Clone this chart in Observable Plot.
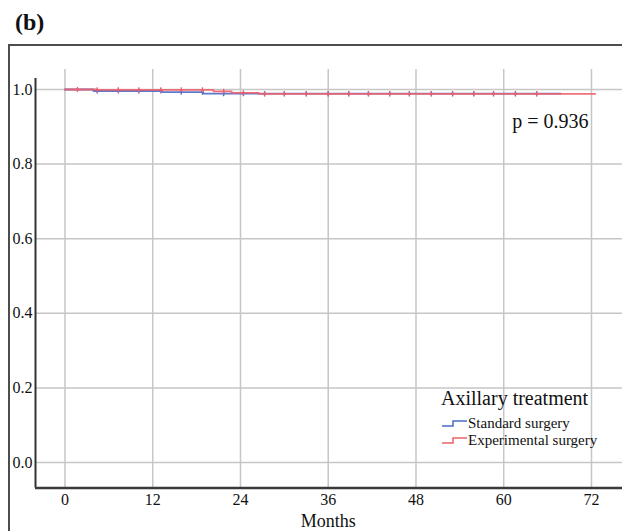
<!DOCTYPE html>
<html><head><meta charset="utf-8">
<script src="https://cdn.jsdelivr.net/npm/d3@7"></script>
<script src="https://cdn.jsdelivr.net/npm/@observablehq/plot@0.6"></script>
<style>
body{margin:0;background:#fff;font-family:"Liberation Serif","Times New Roman",serif;}
#wrap{position:relative;width:622px;height:531px;overflow:hidden;background:#fff;}
#title{position:absolute;left:15px;top:10px;font-weight:bold;font-size:24px;color:#111;line-height:1;font-family:"Liberation Serif","Times New Roman",serif;}
#frame{position:absolute;left:8px;top:44px;width:620px;height:500px;border-top:2px solid #4d4d4d;border-left:2px solid #4d4d4d;}
#chart{position:absolute;left:10px;top:46px;}
#legend{position:absolute;left:430px;top:380px;}
#chart text{font-family:"Liberation Serif","Times New Roman",serif;}
</style>
</head><body>
<div id="wrap">
  <div id="title">(b)</div>
  <div id="frame"></div>
  <div id="chart"></div>
  <svg id="legend" width="190" height="75" font-family="Liberation Serif, Times New Roman, serif" fill="#111">
    <text x="11" y="25" font-size="20">Axillary treatment</text>
    <path d="M12,46H23V41H37" fill="none" stroke="#4a6cc6" stroke-width="1.5"/>
    <text x="38" y="48" font-size="15">Standard surgery</text>
    <path d="M12,63H23V58H37" fill="none" stroke="#f0606a" stroke-width="1.5"/>
    <text x="38" y="65" font-size="15">Experimental surgery</text>
  </svg>
</div>
<script>
// ---- data ----
const monthTicks = [0, 12, 24, 36, 48, 60, 72];
const survTicks = [0, 0.2, 0.4, 0.6, 0.8, 1.0];
const seriesNames = ["Standard surgery", "Experimental surgery"];
const standardTimes = [0, 3.9, 13.3, 18.9, 67.8];
const standardSurv  = [1.0, 0.996, 0.993, 0.989, 0.989];
const experimentalTimes = [0, 4.2, 20.3, 22.8, 26.5, 72.5];
const experimentalSurv  = [1.0, 0.999, 0.995, 0.991, 0.988, 0.988];
const standardCensor = [4.4, 7.3, 10.1, 13.1, 15.9, 18.8, 21.7, 24.4, 27.3, 30.0, 33.0, 36.0, 38.8, 41.5, 44.4, 47.1, 50.1, 53.0, 55.9, 58.6, 61.6, 64.5];
const experimentalCensor = [1.7, 4.4, 7.3, 10.1, 13.1, 15.9, 18.8, 21.7, 24.4, 27.3, 30.0, 33.0, 36.0, 38.8, 41.5, 44.4, 47.1, 50.1, 53.0, 55.9, 58.6, 61.6, 64.5];
const pValueText = "p = 0.936";
const xLabel = "Months";

const colors = {"Standard surgery": "#4a6cc6", "Experimental surgery": "#f0606a"};

function steps(name, times, surv) {
  return times.map((t, i) => ({series: name, t, s: surv[i]}));
}
function censorPts(name, times, surv, cens) {
  return cens.map(c => {
    let s = surv[0];
    for (let i = 0; i < times.length; i++) if (times[i] <= c) s = surv[i];
    return {series: name, t: c, s};
  });
}
const curves = [
  ...steps(seriesNames[0], standardTimes, standardSurv),
  ...steps(seriesNames[1], experimentalTimes, experimentalSurv)
];
const censors = [
  ...censorPts(seriesNames[0], standardTimes, standardSurv, standardCensor),
  ...censorPts(seriesNames[1], experimentalTimes, experimentalSurv, experimentalCensor)
];

// vertical "+" censor tick
const censorSymbol = {
  draw(ctx, size) {
    const r = Math.sqrt(size / Math.PI);
    ctx.moveTo(0, -r); ctx.lineTo(0, r);
    ctx.moveTo(-r * 0.5, 0); ctx.lineTo(r * 0.5, 0);
  }
};

const xMin = -4.03, xMax = 76.24, yMin = -0.0684, yMax = 1.0536, yAxisTop = 1.0295;
const font = "Liberation Serif, Times New Roman, serif";

const chart = Plot.plot({
  width: 612, height: 485,
  marginLeft: 25, marginRight: 0, marginTop: 23, marginBottom: 43.5,
  x: {domain: [xMin, xMax]},
  y: {domain: [yMin, yMax]},
  color: {domain: seriesNames, range: seriesNames.map(n => colors[n])},
  style: {fontFamily: font, fontSize: "16px", color: "#111", background: "transparent", overflow: "visible"},
  marks: [
    Plot.ruleY(survTicks, {stroke: "#c6c6c6", strokeWidth: 1.5}),
    Plot.ruleX(monthTicks, {y1: yMin, y2: yMax, stroke: "#c6c6c6", strokeWidth: 1.5}),
    Plot.ruleX([xMin], {y1: yMin, y2: yAxisTop, stroke: "#333", strokeWidth: 2}),
    Plot.ruleY([yMin], {stroke: "#3a3a3a", strokeWidth: 2.5}),
    Plot.axisY(survTicks, {tickSize: 0, tickPadding: 3, tickFormat: d3.format(".1f"), label: null, fontSize: 16, fill: "#111"}),
    Plot.axisX(monthTicks, {tickSize: 0, tickPadding: 6, label: null, fontSize: 16, fill: "#111"}),
    Plot.text([xLabel], {x: () => 36, y: () => -0.158, fontSize: 18, textAnchor: "middle", fill: "#111"}),
    Plot.line(curves, {x: "t", y: "s", z: "series", stroke: "series", curve: "step-after", strokeWidth: 1.8, strokeOpacity: 0.9}),
    Plot.dot(censors, {x: "t", y: "s", stroke: "series", symbol: censorSymbol, r: 2.6, strokeWidth: 1.3, fill: "none"}),
    Plot.text([pValueText], {x: () => 71.6, y: () => 0.9126, textAnchor: "end", fontSize: 20, fill: "#111"})
  ]
});
document.getElementById("chart").appendChild(chart);
</script>
</body></html>
